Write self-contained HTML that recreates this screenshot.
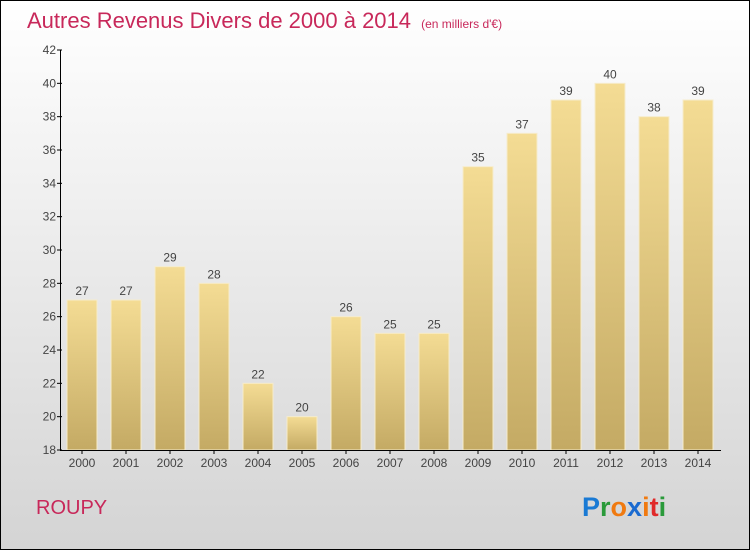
<!DOCTYPE html>
<html><head><meta charset="utf-8"><style>
body{margin:0;width:750px;height:550px;overflow:hidden}
svg{display:block;font-family:"Liberation Sans",sans-serif}
</style></head><body>
<svg id="c" width="750" height="550">
<defs>
<linearGradient id="bg" x1="0" y1="0" x2="0" y2="1"><stop offset="0" stop-color="#ffffff"/><stop offset="1" stop-color="#d4d4d4"/></linearGradient>
<linearGradient id="bar" x1="0" y1="0" x2="0" y2="1"><stop offset="0" stop-color="#f4dc94"/><stop offset="1" stop-color="#c4aa64"/></linearGradient>
</defs>
<rect x="0.5" y="0.5" width="749" height="549" fill="url(#bg)" stroke="#000"/>
<text x="27" y="28" font-size="22" fill="#c8285a">Autres Revenus Divers de 2000 à 2014 <tspan font-size="12" dx="4">(en milliers d'€)</tspan></text>
<text x="36" y="514" font-size="20" fill="#c8285a">ROUPY</text>
<g font-size="27" font-weight="bold">
<text x="582" y="516"><tspan fill="#1a7ad4">P</tspan><tspan fill="#2a9a3a">r</tspan><tspan fill="#f07a10">o</tspan><tspan fill="#1a6ad0">x</tspan><tspan fill="#f07a10">i</tspan><tspan fill="#e02a2a">t</tspan><tspan fill="#2a9a3a">i</tspan></text>
</g>
<g id="plot"></g>
</svg>
<script>
const categories=["2000","2001","2002","2003","2004","2005","2006","2007","2008","2009","2010","2011","2012","2013","2014"];
const values=[27,27,29,28,22,20,26,25,25,35,37,39,40,38,39];
const yTicks=[18,20,22,24,26,28,30,32,34,36,38,40,42];
const ns="http://www.w3.org/2000/svg";
const g=document.getElementById('plot');
const y0=450,y1=50,vmin=18,vmax=42;
const y=v=>y0-(v-vmin)/(vmax-vmin)*(y0-y1);
const x=i=>82+i*44;
function mk(t,a,txt){const e=document.createElementNS(ns,t);for(const k in a)e.setAttribute(k,a[k]);if(txt!=null)e.textContent=txt;g.appendChild(e);return e;}
values.forEach((v,i)=>{
 const r=mk('rect',{x:x(i)-15,y:y(v),width:30,height:y0-y(v),fill:'url(#bar)',stroke:'#f6eccc','stroke-width':1});
 
 
 const t=mk('text',{x:x(i),y:y(v)-5,'text-anchor':'middle','font-size':12,fill:'#444'},v);
 
 
 const l=mk('text',{x:x(i),y:467,'text-anchor':'middle','font-size':12,fill:'#444'},categories[i]);
 
 
 mk('line',{x1:x(i),x2:x(i),y1:y0,y2:y0+4,stroke:'#000'});
});
yTicks.forEach(v=>{
 mk('line',{x1:57,x2:62,y1:y(v),y2:y(v),stroke:'#000'});
 const t=mk('text',{x:56,y:y(v)+4,'text-anchor':'end','font-size':12,fill:'#444'},v);
 
 
});
const ya=mk('line',{x1:60.5,x2:60.5,y1:y1,y2:y0,stroke:'#000'});


const xa=mk('line',{x1:60,x2:721,y1:y0+0.5,y2:y0+0.5,stroke:'#000'});


</script>
</body></html>
